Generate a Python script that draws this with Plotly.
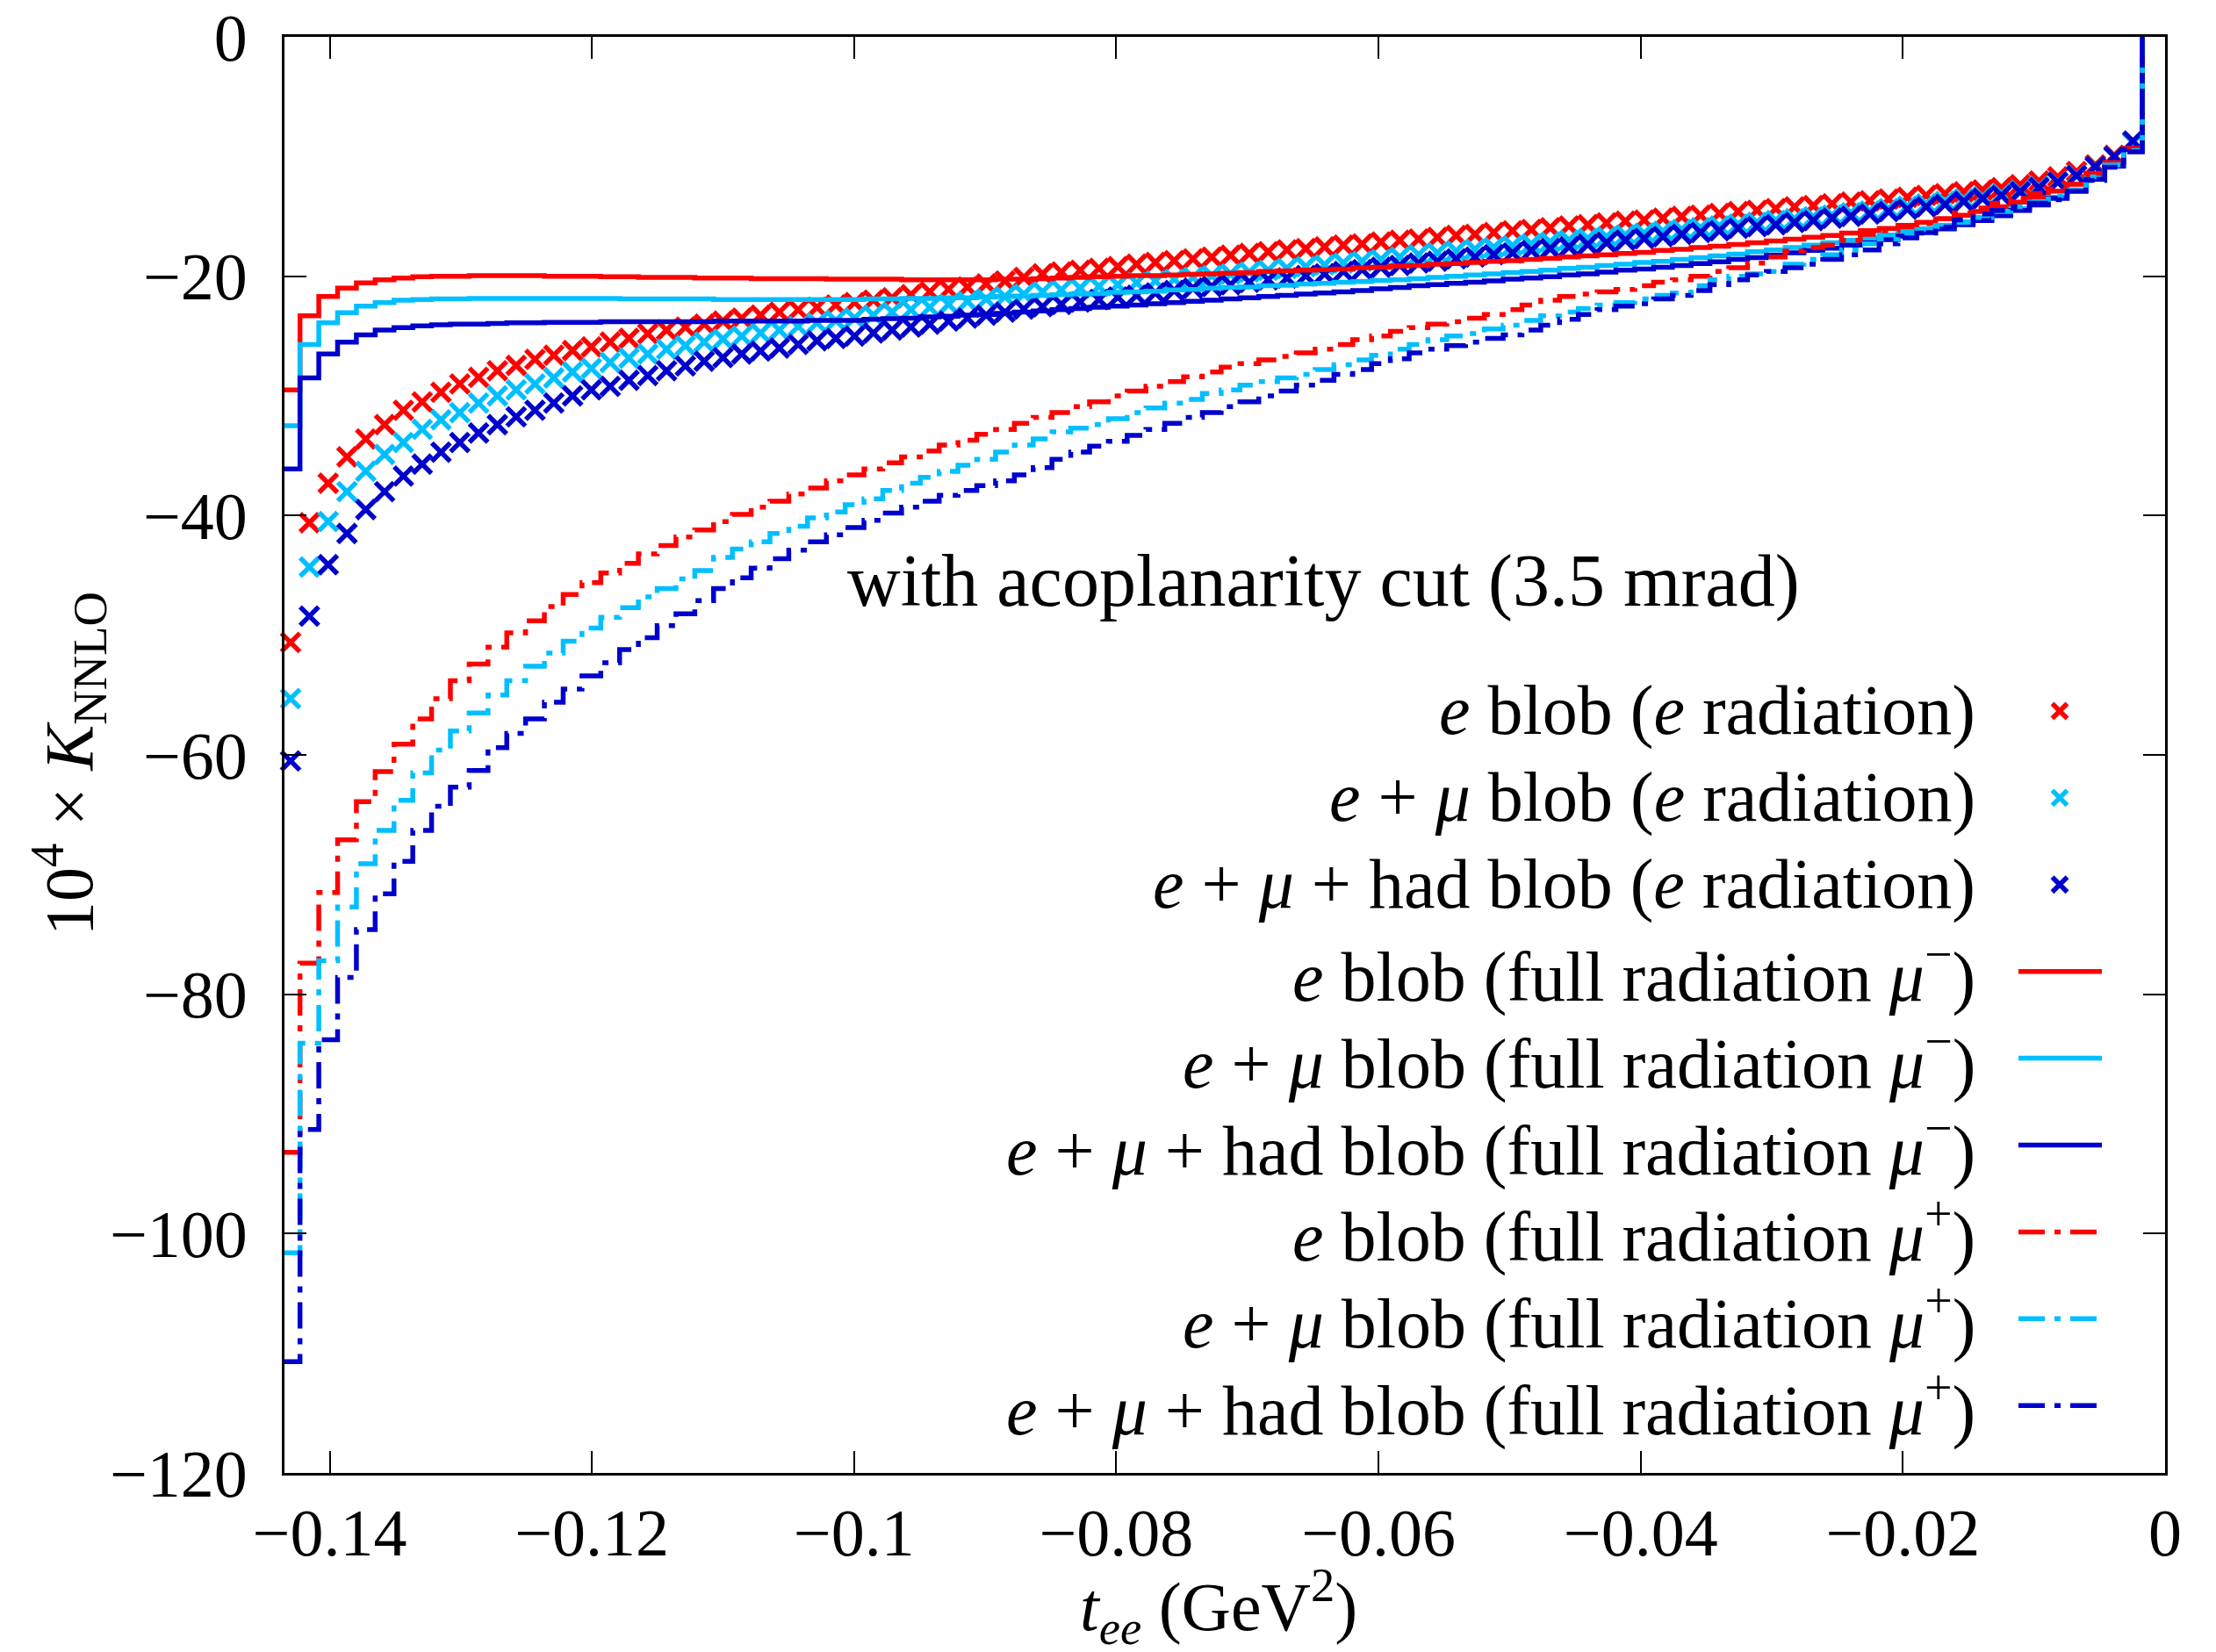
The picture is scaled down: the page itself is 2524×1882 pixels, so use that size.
import numpy as np
import plotly.graph_objects as go

# ---------------- data ----------------
T_FIRST_EDGE = -0.14370   # lower edge of first histogram bin (GeV^2)
BIN_W = 0.001434          # bin width (GeV^2)
END_LEVEL = 0.0           # histogram drops to baseline after last bin

x_tickvals = [-0.14, -0.12, -0.10, -0.08, -0.06, -0.04, -0.02, 0.0]
x_ticktext = ["−0.14", "−0.12", "−0.1", "−0.08", "−0.06", "−0.04", "−0.02", "0"]
y_tickvals = [0, -20, -40, -60, -80, -100, -120]
y_ticktext = ["0", "−20", "−40", "−60", "−80", "−100", "−120"]

# crosses: e radiation only
e_blob_erad = [
    -50.6, -40.6, -37.3, -35.1, -33.6, -32.4, -31.2, -30.5, -29.7, -29.0,
    -28.45, -27.9, -27.45, -26.95, -26.6, -26.2, -25.9, -25.5, -25.2, -24.8,
    -24.5, -24.25, -24.0, -23.75, -23.5, -23.25, -23.0, -22.8, -22.6, -22.4,
    -22.2, -22.0, -21.8, -21.55, -21.3, -21.1, -20.9, -20.65, -20.4, -20.1,
    -19.8, -19.65, -19.5, -19.35, -19.2, -19.0, -18.85, -18.7, -18.55, -18.4,
    -18.25, -18.1, -17.95, -17.8, -17.7, -17.55, -17.4, -17.3, -17.15, -17.0,
    -16.9, -16.75, -16.6, -16.5, -16.35, -16.2, -16.1, -15.95, -15.8, -15.7,
    -15.55, -15.4, -15.3, -15.15, -15.0, -14.9, -14.75, -14.6, -14.5, -14.35,
    -14.2, -14.1, -13.95, -13.8, -13.7, -13.55, -13.4, -13.25, -13.1, -12.95,
    -12.8, -12.6, -12.35, -12.05, -11.7, -11.25, -10.7, -9.9, -8.8]
emu_blob_erad = [
    -55.3, -44.3, -40.5, -38.0, -36.3, -34.9, -33.9, -32.8, -32.0, -31.4,
    -30.6, -30.0, -29.5, -29.0, -28.5, -28.0, -27.7, -27.2, -26.85, -26.5,
    -26.1, -25.8, -25.5, -25.25, -25.0, -24.75, -24.5, -24.2, -23.9, -23.7,
    -23.5, -23.25, -23.0, -22.8, -22.6, -22.35, -22.1, -21.9, -21.7, -21.5,
    -21.3, -21.15, -21.0, -20.85, -20.7, -20.55, -20.4, -20.25, -20.1, -19.95,
    -19.8, -19.65, -19.5, -19.35, -19.2, -19.05, -18.9, -18.75, -18.6, -18.4,
    -18.2, -18.05, -17.9, -17.75, -17.6, -17.45, -17.3, -17.15, -17.0, -16.85,
    -16.7, -16.55, -16.4, -16.25, -16.1, -15.95, -15.8, -15.65, -15.5, -15.35,
    -15.2, -15.05, -14.9, -14.7, -14.55, -14.35, -14.15, -13.95, -13.75, -13.55,
    -13.35, -13.1, -12.85, -12.5, -12.1, -11.55, -10.85, -10.0, -8.8]
emuhad_blob_erad = [
    -60.5, -48.4, -44.1, -41.5, -39.5, -38.0, -36.7, -35.7, -34.7, -33.9,
    -33.1, -32.4, -31.75, -31.2, -30.6, -30.0, -29.5, -29.2, -28.7, -28.3,
    -27.9, -27.5, -27.1, -26.8, -26.5, -26.25, -26.0, -25.7, -25.4, -25.2,
    -25.0, -24.75, -24.5, -24.25, -24.0, -23.75, -23.5, -23.25, -23.0, -22.75,
    -22.55, -22.35, -22.15, -21.95, -21.75, -21.6, -21.4, -21.2, -21.0, -20.85,
    -20.7, -20.5, -20.3, -20.15, -19.95, -19.8, -19.6, -19.45, -19.25, -19.1,
    -18.9, -18.75, -18.55, -18.4, -18.2, -18.05, -17.85, -17.7, -17.55, -17.35,
    -17.2, -17.0, -16.85, -16.7, -16.5, -16.35, -16.2, -16.0, -15.85, -15.7,
    -15.5, -15.35, -15.15, -15.0, -14.8, -14.6, -14.4, -14.2, -14.0, -13.75,
    -13.5, -13.25, -12.95, -12.6, -12.15, -11.6, -10.85, -10.0, -8.7]

# solid: full radiation mu-
e_blob_full_mum = [
    -29.5, -23.3, -21.7, -21.0, -20.55, -20.3, -20.15, -20.05, -20.0, -20.0,
    -19.95, -19.95, -19.95, -19.95, -20.0, -20.0, -20.0, -20.05, -20.05, -20.1,
    -20.1, -20.1, -20.15, -20.15, -20.15, -20.2, -20.2, -20.2, -20.2, -20.25,
    -20.25, -20.25, -20.25, -20.3, -20.3, -20.3, -20.3, -20.3, -20.25, -20.25,
    -20.2, -20.15, -20.1, -20.05, -20.0, -19.95, -19.95, -19.9, -19.85, -19.8,
    -19.75, -19.7, -19.6, -19.55, -19.5, -19.45, -19.4, -19.3, -19.25, -19.15,
    -19.1, -19.0, -18.95, -18.85, -18.75, -18.7, -18.6, -18.5, -18.4, -18.3,
    -18.2, -18.1, -18.0, -17.85, -17.75, -17.6, -17.5, -17.35, -17.2, -17.05,
    -16.9, -16.75, -16.6, -16.4, -16.2, -16.0, -15.75, -15.5, -15.2, -14.9,
    -14.6, -14.2, -13.8, -13.4, -12.9, -12.3, -11.4, -10.5, -9.3]
emu_blob_full_mum = [
    -32.5, -25.7, -23.9, -23.05, -22.5, -22.2, -22.0, -21.95, -21.9, -21.9,
    -21.85, -21.85, -21.85, -21.85, -21.85, -21.85, -21.85, -21.85, -21.9, -21.9,
    -21.9, -21.9, -21.9, -21.95, -21.95, -21.95, -21.95, -21.95, -21.95, -21.95,
    -21.95, -21.9, -21.9, -21.85, -21.85, -21.8, -21.8, -21.75, -21.7, -21.65,
    -21.6, -21.55, -21.5, -21.45, -21.35, -21.3, -21.25, -21.15, -21.1, -21.0,
    -20.95, -20.9, -20.8, -20.75, -20.65, -20.6, -20.5, -20.45, -20.35, -20.3,
    -20.2, -20.1, -20.0, -19.9, -19.8, -19.7, -19.6, -19.5, -19.35, -19.25,
    -19.1, -19.0, -18.85, -18.75, -18.6, -18.45, -18.3, -18.15, -17.95, -17.8,
    -17.6, -17.4, -17.2, -17.0, -16.8, -16.55, -16.3, -16.05, -15.75, -15.45,
    -15.1, -14.75, -14.35, -13.9, -13.4, -12.8, -11.8, -10.7, -9.4]
emuhad_blob_full_mum = [
    -36.1, -28.5, -26.5, -25.5, -24.9, -24.5, -24.3, -24.15, -24.05, -24.0,
    -24.0, -23.95, -23.9, -23.9, -23.85, -23.85, -23.85, -23.8, -23.8, -23.8,
    -23.8, -23.8, -23.8, -23.75, -23.75, -23.75, -23.75, -23.75, -23.7, -23.7,
    -23.7, -23.6, -23.55, -23.5, -23.4, -23.35, -23.25, -23.2, -23.1, -23.0,
    -22.9, -22.8, -22.7, -22.6, -22.5, -22.4, -22.3, -22.2, -22.1, -22.0,
    -21.9, -21.8, -21.7, -21.6, -21.5, -21.4, -21.3, -21.2, -21.05, -20.95,
    -20.8, -20.7, -20.6, -20.5, -20.4, -20.25, -20.15, -20.05, -19.9, -19.8,
    -19.65, -19.5, -19.4, -19.25, -19.1, -18.95, -18.8, -18.6, -18.45, -18.25,
    -18.05, -17.85, -17.65, -17.4, -17.2, -16.95, -16.65, -16.35, -16.05, -15.7,
    -15.35, -14.95, -14.5, -14.05, -13.5, -12.9, -11.9, -10.8, -9.4]

# dash-dot: full radiation mu+
e_blob_full_mup = [
    -93.2, -77.4, -71.5, -67.1, -63.9, -61.4, -59.1, -57.0, -55.3, -53.8,
    -52.4, -51.0, -49.8, -48.8, -47.6, -46.6, -45.6, -44.8, -44.0, -43.2,
    -42.5, -41.8, -41.2, -40.5, -39.9, -39.3, -38.8, -38.2, -37.7, -37.1,
    -36.6, -36.1, -35.6, -35.1, -34.6, -34.1, -33.7, -33.2, -32.8, -32.3,
    -31.8, -31.4, -30.9, -30.5, -30.0, -29.6, -29.2, -28.8, -28.4, -28.0,
    -27.6, -27.3, -27.0, -26.7, -26.4, -26.1, -25.7, -25.3, -25.0, -24.6,
    -24.3, -24.0, -23.8, -23.5, -23.2, -22.8, -22.4, -22.0, -21.7, -21.5,
    -21.3, -21.1, -20.8, -20.5, -20.3, -20.0, -19.6, -19.3, -18.9, -18.4,
    -17.9, -17.6, -17.4, -17.0, -16.5, -16.2, -15.9, -15.6, -15.2, -14.7,
    -14.3, -13.9, -13.5, -13.1, -12.7, -12.3, -11.5, -10.6, -9.4]
emu_blob_full_mup = [
    -101.6, -84.1, -77.2, -72.7, -69.1, -66.3, -63.8, -61.5, -59.6, -58.0,
    -56.5, -55.0, -53.8, -52.6, -51.5, -50.5, -49.4, -48.5, -47.7, -46.8,
    -46.1, -45.3, -44.6, -43.5, -42.8, -42.2, -41.5, -40.9, -40.2, -39.7,
    -39.1, -38.6, -37.9, -37.3, -36.8, -36.3, -35.8, -35.3, -34.7, -34.1,
    -33.6, -33.0, -32.7, -32.4, -31.9, -31.4, -31.0, -30.6, -30.3, -29.8,
    -29.5, -29.1, -28.8, -28.5, -28.2, -27.8, -27.4, -27.0, -26.6, -26.1,
    -25.7, -25.3, -25.0, -24.8, -24.4, -24.1, -23.7, -23.3, -23.0, -22.7,
    -22.4, -22.2, -21.9, -21.6, -21.4, -20.8, -20.3, -20.0, -19.8, -19.6,
    -19.0, -18.6, -18.2, -17.8, -17.3, -16.9, -16.5, -16.1, -15.9, -15.5,
    -15.1, -14.6, -14.2, -13.8, -13.3, -12.8, -11.7, -10.7, -9.5]
emuhad_blob_full_mup = [
    -110.7, -91.3, -83.8, -78.6, -74.6, -71.6, -68.9, -66.3, -64.3, -62.7,
    -61.3, -59.4, -58.2, -57.0, -55.6, -54.5, -53.4, -52.3, -51.2, -50.2,
    -49.2, -48.2, -47.1, -46.1, -45.2, -44.4, -43.6, -42.9, -42.2, -41.6,
    -41.0, -40.4, -39.8, -39.3, -38.8, -38.3, -37.9, -37.5, -37.1, -36.6,
    -36.0, -35.3, -34.7, -34.2, -33.8, -33.3, -32.8, -32.3, -31.8, -31.4,
    -30.9, -30.5, -30.0, -29.6, -29.1, -28.7, -28.2, -27.8, -27.3, -26.9,
    -26.4, -26.1, -25.8, -25.5, -25.2, -24.9, -24.5, -24.1, -23.6, -23.2,
    -22.8, -22.5, -22.3, -21.9, -21.6, -21.2, -20.7, -20.3, -19.9, -19.6,
    -19.3, -19.0, -18.6, -18.2, -17.8, -17.3, -16.8, -16.4, -15.9, -15.3,
    -14.8, -14.5, -14.2, -13.9, -13.6, -12.9, -12.0, -10.9, -9.6]

legend_labels = [
    "<i>e</i> blob (<i>e</i> radiation)",
    "<i>e</i> + <i>μ</i> blob (<i>e</i> radiation)",
    "<i>e</i> + <i>μ</i> + had blob (<i>e</i> radiation)",
    "<i>e</i> blob (full radiation <i>μ</i><sup>−</sup>)",
    "<i>e</i> + <i>μ</i> blob (full radiation <i>μ</i><sup>−</sup>)",
    "<i>e</i> + <i>μ</i> + had blob (full radiation <i>μ</i><sup>−</sup>)",
    "<i>e</i> blob (full radiation <i>μ</i><sup>+</sup>)",
    "<i>e</i> + <i>μ</i> blob (full radiation <i>μ</i><sup>+</sup>)",
    "<i>e</i> + <i>μ</i> + had blob (full radiation <i>μ</i><sup>+</sup>)",
]

# ---------------- styles ----------------
RED, CYAN, BLUE = "#FF0000", "#00BFFF", "#0000CD"
FONT = "Liberation Serif"
DASHDOT = "30px,11px,7px,11px"
LW = 5.5

series = [
    ("markers", e_blob_erad, RED, None),
    ("markers", emu_blob_erad, CYAN, None),
    ("markers", emuhad_blob_erad, BLUE, None),
    ("steps", e_blob_full_mum, RED, "solid"),
    ("steps", emu_blob_full_mum, CYAN, "solid"),
    ("steps", emuhad_blob_full_mum, BLUE, "solid"),
    ("steps", e_blob_full_mup, RED, DASHDOT),
    ("steps", emu_blob_full_mup, CYAN, DASHDOT),
    ("steps", emuhad_blob_full_mup, BLUE, DASHDOT),
]

n_bins = len(e_blob_erad)
edges = T_FIRST_EDGE + BIN_W * np.arange(n_bins + 1)
centers = edges[:-1] + BIN_W / 2

fig = go.Figure()
for kind, vals, col, dash in series:
    if kind == "markers":
        fig.add_trace(go.Scatter(
            x=centers, y=vals, mode="markers",
            marker=dict(symbol="x-thin", size=21, color=col,
                        line=dict(color=col, width=5.5)),
            showlegend=False, cliponaxis=False))
    else:
        fig.add_trace(go.Scatter(
            x=edges, y=list(vals) + [END_LEVEL], mode="lines",
            line=dict(color=col, width=LW, dash=dash, shape="hv"),
            showlegend=False))

# ---------------- key (gnuplot style: text right, sample left) ----------------
W, H = 2524, 1882
ML, MR, MT, MB = 324, 58, 42, 204
pw, ph = W - ML - MR, H - MT - MB

def px2paper_x(px):
    return (px - ML) / pw

def px2paper_y(py):
    return 1 - (py - MT) / ph

key_text_right = px2paper_x(2252)
key_line = [px2paper_x(2299), px2paper_x(2394)]
key_mark = px2paper_x(2346)
key_rows = [px2paper_y(810 + 98.9 * i) for i in range(9)]

for (kind, vals, col, dash), yk, lab in zip(series, key_rows, legend_labels):
    if kind == "markers":
        fig.add_trace(go.Scatter(
            x=[key_mark], y=[yk], mode="markers", xaxis="x2", yaxis="y2",
            marker=dict(symbol="x-thin", size=17, color=col,
                        line=dict(color=col, width=5.5)),
            showlegend=False, hoverinfo="skip"))
    else:
        fig.add_trace(go.Scatter(
            x=key_line, y=[yk, yk], mode="lines", xaxis="x2", yaxis="y2",
            line=dict(color=col, width=LW, dash=dash),
            showlegend=False, hoverinfo="skip"))
    fig.add_annotation(
        x=key_text_right, y=yk, xref="paper", yref="paper",
        text=lab, showarrow=False, xanchor="right", yanchor="middle",
        font=dict(family=FONT, size=80, color="black"))

fig.add_annotation(
    x=px2paper_x(1507), y=px2paper_y(662), xref="paper", yref="paper",
    text="with acoplanarity cut (3.5 mrad)", showarrow=False,
    xanchor="center", yanchor="middle",
    font=dict(family=FONT, size=84, color="black"))

fig.add_annotation(
    x=px2paper_x(78), y=px2paper_y(870), xref="paper", yref="paper",
    text="10<sup>4</sup> × <i>K</i><sub>NNLO</sub>", showarrow=False,
    textangle=-90, xanchor="center", yanchor="middle",
    font=dict(family=FONT, size=78, color="black"))

fig.add_annotation(
    x=px2paper_x(1388), y=px2paper_y(1830), xref="paper", yref="paper",
    text="<i>t</i><sub><i>ee</i></sub> (GeV<sup>2</sup>)", showarrow=False,
    xanchor="center", yanchor="middle",
    font=dict(family=FONT, size=78, color="black"))

axis_common = dict(
    showline=True, linecolor="black", linewidth=3, mirror="ticks",
    ticks="inside", ticklen=25, tickwidth=2, tickcolor="black",
    showgrid=False, zeroline=False,
    tickfont=dict(family=FONT, size=76, color="black"))

fig.update_layout(
    width=W, height=H,
    margin=dict(l=ML, r=MR, t=MT, b=MB, autoexpand=False),
    paper_bgcolor="white", plot_bgcolor="white",
    showlegend=False,
    xaxis=dict(range=[-0.14345, 0.0], tickvals=x_tickvals, ticktext=x_ticktext,
               ticklabelstandoff=0, **axis_common),
    yaxis=dict(range=[-120, 0], tickvals=y_tickvals, ticktext=y_ticktext,
               ticklabelstandoff=24, **axis_common),
    xaxis2=dict(overlaying="x", range=[0, 1], visible=False),
    yaxis2=dict(overlaying="y", range=[0, 1], visible=False),
)

fig.write_html("out.html")
